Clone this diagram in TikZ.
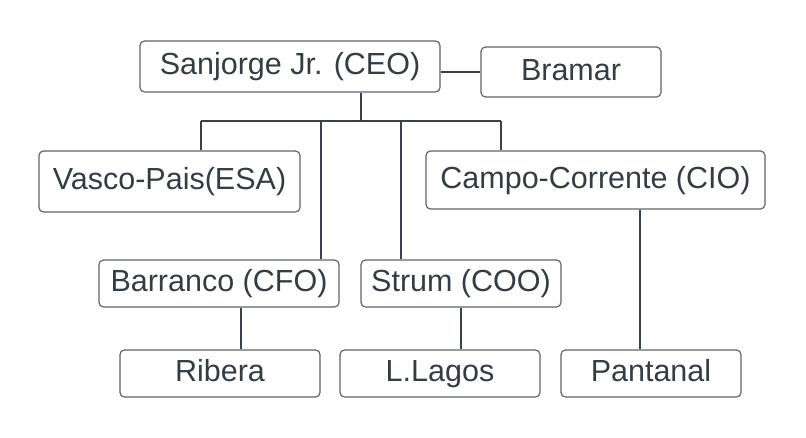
\documentclass[tikz,border=0pt]{standalone}
\usepackage{fontspec}
\setmainfont{Liberation Sans}
\definecolor{txt}{HTML}{363C45}
\definecolor{bord}{HTML}{5E636A}
\definecolor{conn}{HTML}{3A414A}
\begin{document}
\begin{tikzpicture}[x=1pt,y=-1pt,
  box/.style={draw=bord,line width=1.2pt,rounded corners=4.5pt,text=txt,inner sep=0pt,
    text height=22pt,text depth=6pt,
    font=\fontsize{30.5}{36}\selectfont},
  link/.style={draw=conn,line width=1.3pt}]
\useasboundingbox (0,0) rectangle (806,437);
\node[box,minimum width=300pt,minimum height=51pt] (ceo) at (290,66.5) {Sanjorge Jr. (CEO)};
\node[box,minimum width=180pt,minimum height=50pt] (bramar) at (571,72) {Bramar};
\node[box,minimum width=261pt,minimum height=61pt] (vasco) at (169.5,181.5) {Vasco-Pais(ESA)};
\node[box,minimum width=339pt,minimum height=58pt] (campo) at (595.5,180) {Campo-Corrente (CIO)};
\node[box,minimum width=240pt,minimum height=47pt] (barranco) at (219,283.5) {Barranco (CFO)};
\node[box,minimum width=200pt,minimum height=47pt] (strum) at (461,283.5) {Strum (COO)};
\node[box,minimum width=200pt,minimum height=47pt] (ribera) at (220,373.5) {Ribera};
\node[box,minimum width=200pt,minimum height=47pt] (lagos) at (440,373.5) {L.Lagos};
\node[box,minimum width=180pt,minimum height=47pt] (pantanal) at (651,373.5) {Pantanal};
\coordinate (bus) at (361,121);
\coordinate (b1) at (201,121);
\coordinate (b2) at (321,121);
\coordinate (b3) at (401,121);
\coordinate (b4) at (501,121);
\coordinate (c1) at (241,0);
\coordinate (c2) at (461,0);
\coordinate (c3) at (640,0);
\draw[link] (ceo.south -| bus) -- (bus);
\draw[link] (b1) -- (b4);
\draw[link] (b1) -- (b1 |- vasco.north);
\draw[link] (b2) -- (b2 |- barranco.north);
\draw[link] (b3) -- (b3 |- strum.north);
\draw[link] (b4) -- (b4 |- campo.north);
\draw[link] (bramar.west) -- (bramar.west -| ceo.east);
\draw[link] (barranco.south -| c1) -- (ribera.north -| c1);
\draw[link] (strum.south -| c2) -- (lagos.north -| c2);
\draw[link] (campo.south -| c3) -- (pantanal.north -| c3);
\end{tikzpicture}
\end{document}
